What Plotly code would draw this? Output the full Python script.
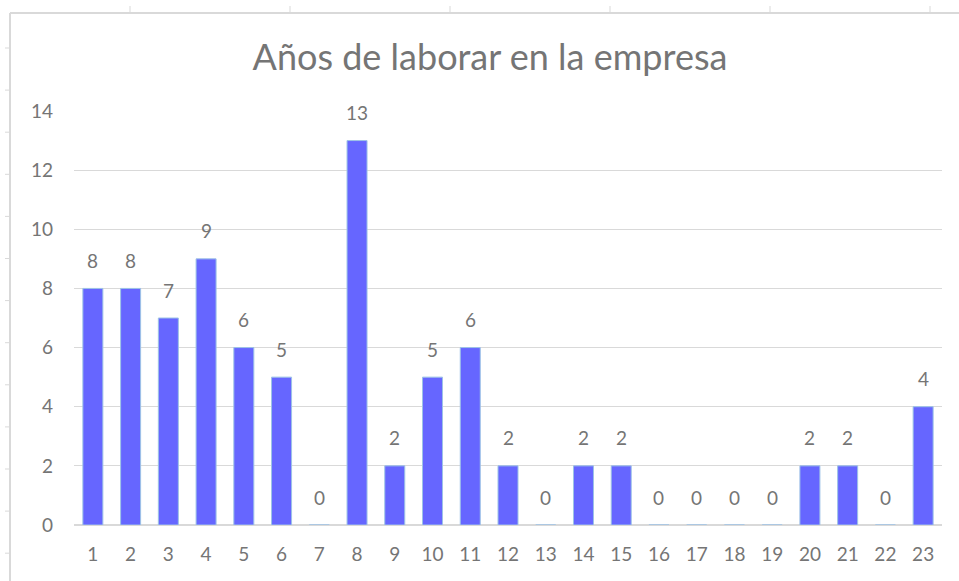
import plotly.graph_objects as go

# Datos
anios = [str(i) for i in range(1, 24)]
cantidad = [8, 8, 7, 9, 6, 5, 0, 13, 2, 5, 6, 2, 0, 2, 2, 0, 0, 0, 0, 2, 2, 0, 4]
y_ticks = [0, 2, 4, 6, 8, 10, 12, 14]

COLOR_BAR = '#6666FF'
COLOR_EDGE = '#9DC3E6'
COLOR_TEXT = '#757575'
COLOR_GRID = '#D9D9D9'
FONT = 'Lato'

W, H = 959, 581
L, R, T, B = 74, 17, 111, 56
pw, ph = W - L - R, H - T - B

def px(x):
    return (x - L) / pw

def py(y):
    return (H - B - y) / ph

fig = go.Figure()
fig.add_trace(go.Bar(
    x=list(range(len(anios))), y=cantidad,
    marker=dict(color=COLOR_BAR, line=dict(color=COLOR_EDGE, width=1)),
    hoverinfo='y'
))

# etiquetas de datos
for i, c in enumerate(cantidad):
    fig.add_annotation(x=i, y=c, text=str(c), showarrow=False, yshift=28,
                       font=dict(family=FONT, size=19, color=COLOR_TEXT))

# borde del área del gráfico y marcas de la hoja de cálculo
shapes = [
    dict(type='line', xref='paper', yref='paper', x0=px(10), x1=px(W + 5), y0=py(13), y1=py(13),
         line=dict(color=COLOR_GRID, width=2)),
    dict(type='line', xref='paper', yref='paper', x0=px(10), x1=px(10), y0=py(13), y1=py(H + 5),
         line=dict(color=COLOR_GRID, width=2)),
]
for k in range(13):
    yy = 48 + 42.1 * k
    shapes.append(dict(type='line', xref='paper', yref='paper', x0=px(5), x1=px(10), y0=py(yy), y1=py(yy),
                       line=dict(color=COLOR_GRID, width=1)))
for xx in [130, 290, 450, 610, 770, 930]:
    shapes.append(dict(type='line', xref='paper', yref='paper', x0=px(xx), x1=px(xx), y0=py(6), y1=py(13),
                       line=dict(color=COLOR_GRID, width=1)))

fig.update_layout(
    width=W, height=H,
    margin=dict(l=L, r=R, t=T, b=B),
    paper_bgcolor='white', plot_bgcolor='white',
    title=dict(text='Años de laborar en la empresa', x=490 / W, xanchor='center',
               y=1 - 57 / H, yanchor='middle', xref='container', yref='container',
               font=dict(family=FONT, size=36, color=COLOR_TEXT)),
    bargap=0.47,
    showlegend=False,
    shapes=shapes,
    xaxis=dict(range=[-0.5, len(anios) - 0.5], tickvals=list(range(len(anios))), ticktext=anios,
               showgrid=False, showline=True, linecolor=COLOR_GRID, linewidth=1, zeroline=False,
               ticks='', ticklabelstandoff=12,
               tickfont=dict(family=FONT, size=19, color=COLOR_TEXT)),
    yaxis=dict(range=[0, 14], tickvals=y_ticks, showgrid=True, gridcolor=COLOR_GRID, gridwidth=1,
               zeroline=True, zerolinecolor=COLOR_GRID, showline=False, ticks='',
               ticklabelstandoff=20,
               tickfont=dict(family=FONT, size=19, color=COLOR_TEXT)),
)

fig.write_html('out.html', config={'displayModeBar': False},
               post_script="document.body.style.margin='0';")
